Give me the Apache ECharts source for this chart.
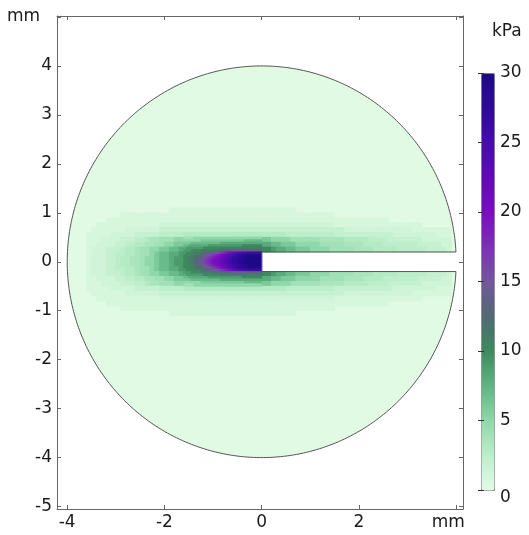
<!DOCTYPE html>
<html>
  <head>
    <meta charset="utf-8">
    <title></title>
    <style media="screen">
    html, body {margin:0; padding:0; background:#fff;}
    .box {width:529px; height:535px;}
    </style>
    <script src="https://cdn.jsdelivr.net/npm/echarts@6/dist/echarts.min.js" charset="utf-8"></script>
    <script>
    // axis ticks (mm) and colour bar ticks (kPa)
    const xTicks = [-4, -2, 0, 2, 4];
    const yTicks = [-5, -4, -3, -2, -1, 0, 1, 2, 3, 4, 5];
    const cbTicks = [0, 5, 10, 15, 20, 25, 30];

    // geometry of the cut disk, mm
    const diskRadius = 4;
    const slitHalf = 0.2;
    const slitTip = 0;

    // stress levels (kPa) coded by one char each
    const levelChars = '0123456789abcdefghijklmnopqrstuvwx';
    const levels = [0.15, 0.8, 1.3, 2, 2.5, 3, 3.5, 4, 5, 6,
                    7, 8, 9, 10, 11, 12, 13, 14, 15, 16, 17, 18, 19, 20,
                    21, 22, 23, 24, 25, 26, 27, 28, 29, 30];
    const backgroundLevel = 0.15;

    // coarse field: 0.1 mm cells,
    // rows from y=1.2 down to y=-1.2, columns from x=-3.6 to x=4.0
    const coarseCell = 0.1;
    const coarseLeft = -3.6;
    const coarseTop = 1.2;
    const coarseRows = [
      '0000000000' + '0000000000' + '0000000000' + '000000' + '0000000000' + '0000000000' + '0000000000' + '0000000000',
      '0000000000' + '0000000111' + '1111111111' + '111111' + '1111111000' + '0000000000' + '0000000000' + '0000000000',
      '0000000111' + '1111111111' + '1111111111' + '111111' + '1111111111' + '1111100000' + '0000000000' + '0000000000',
      '0000111111' + '1111111111' + '1111111111' + '111111' + '1111111111' + '1111111111' + '1111110000' + '0000000000',
      '0011111111' + '1111122222' + '2222222222' + '222222' + '2222222222' + '2222211111' + '1111111111' + '1110000000',
      '0111111122' + '2222233333' + '3333333333' + '333333' + '3333333333' + '3333333222' + '2222222222' + '2111111110',
      '1111122222' + '3333344444' + '5555555555' + '555555' + '5555544444' + '4444433333' + '3333333222' + '2222221111',
      '1112222333' + '4456677788' + '8888899999' + '999999' + '9988887777' + '7766666555' + '5544443333' + '3332222222',
      '1122223344' + '5566778899' + '9aaaabbbbc' + 'cccbbb' + 'bbaa999888' + '8877777666' + '6555544444' + '4433333222',
      '1222333455' + '6778899aab' + 'cddeefffff' + 'ffeeee' + 'ddcbbaa999' + '8888777776' + '6665555544' + '4444333322',
      '1222334455' + '67789aabbc' + 'deefghikmo' + 'qstuvv' + '..........' + '..........' + '..........' + '..........',
      '1222334556' + '67889aabcc' + 'defhikmoqr' + 'uvwxxx' + '..........' + '..........' + '..........' + '..........',
      '1222334556' + '67889aabcc' + 'defhikmoqr' + 'uvwxxx' + '..........' + '..........' + '..........' + '..........',
      '1222334455' + '67789aabbc' + 'deefghikmo' + 'qstuvv' + '..........' + '..........' + '..........' + '..........',
      '1222333455' + '6778899aab' + 'cddeefffff' + 'ffeeee' + 'ddcbbaa999' + '8888777776' + '6665555544' + '4444333322',
      '1122223344' + '5566778899' + '9aaaabbbbc' + 'cccbbb' + 'bbaa999888' + '8877777666' + '6555544444' + '4433333222',
      '1112222333' + '4456677788' + '8888899999' + '999999' + '9988887777' + '7766666555' + '5544443333' + '3332222222',
      '1111122222' + '3333344444' + '5555555555' + '555555' + '5555544444' + '4444433333' + '3333333222' + '2222221111',
      '0111111122' + '2222233333' + '3333333333' + '333333' + '3333333333' + '3333333222' + '2222222222' + '2111111110',
      '0011111111' + '1111122222' + '2222222222' + '222222' + '2222222222' + '2222211111' + '1111111111' + '1110000000',
      '0000111111' + '1111111111' + '1111111111' + '111111' + '1111111111' + '1111111111' + '1111110000' + '0000000000',
      '0000000111' + '1111111111' + '1111111111' + '111111' + '1111111111' + '1111100000' + '0000000000' + '0000000000',
      '0000000000' + '0000000111' + '1111111111' + '111111' + '1111111000' + '0000000000' + '0000000000' + '0000000000',
      '0000000000' + '0000000000' + '0000000000' + '000000' + '0000000000' + '0000000000' + '0000000000' + '0000000000'
    ];

    // finer field at the slit tip: 0.05 mm cells,
    // rows from y=0.5 down to y=-0.5, columns from x=-1.6 to x=0
    const fineCell = 0.05;
    const fineLeft = -1.6;
    const fineTop = 0.5;
    const fineRows = [
      '77778888888888888888888888888888',
      '8888888999999999999999999aaaaaaa',
      '999aaaaaaaaaaaabbbbbbbbbbbbbbbbb',
      'aabbbbbbbbccccccccccccccdddddddd',
      'bcccccccdddddddeeeeeeeeeeeeeeeee',
      'cccddddeeeeeffffgggghhhhhhhhgggg',
      'cdddeeeffgghiijklmnopqrrsstttttt',
      'dddeeffghiijklmnopqrstuuvvwwwwww',
      'ddeeffghijklmnnopqrstuuvvwwxxxxx',
      'ddeefghijklmnnopqrstuuvvwxxxxxxx',
      'ddeefghijklmnnopqrstuuvvwxxxxxxx',
      'ddeeffghijklmnnopqrstuuvvwwxxxxx',
      'dddeeffghiijklmnopqrstuuvvwwwwww',
      'cdddeeeffgghiijklmnopqrrsstttttt',
      'cccddddeeeeeffffgggghhhhhhhhgggg',
      'bcccccccdddddddeeeeeeeeeeeeeeeee',
      'aabbbbbbbbccccccccccccccdddddddd',
      '999aaaaaaaaaaaabbbbbbbbbbbbbbbbb',
      '8888888999999999999999999aaaaaaa',
      '77778888888888888888888888888888'
    ];

    const paletteColors = ['#e3fbe6', '#bdeecb', '#8fd8a9', '#60b483', '#3e8a5e', '#506a72',
                           '#72579c', '#7d30b8', '#7a0cc0', '#6209b8', '#460cab', '#2e0a9a', '#1c0a85'];

    window.onload = function(){
      const chart = echarts.init(document.querySelector('.box'));

      function inDisk(x, y){
        return x * x + y * y <= diskRadius * diskRadius;
      }

      // cells fully inside the disk: [x left, y top, kPa, size]
      const cells = [];
      function addCells(rows, left, top, size){
        rows.forEach((row, r) => {
          for (let c = 0; c < row.length; c++) {
            const ch = row[c];
            if (ch === '.' || ch === '0') continue;
            const x0 = left + c * size;
            const y0 = top - r * size;
            const x1 = x0 + size, y1 = y0 - size;
            if (x0 >= slitTip - 1e-9 && y1 >= -slitHalf - 1e-9 && y0 <= slitHalf + 1e-9) continue;
            if (!(inDisk(x0, y0) && inDisk(x1, y0) && inDisk(x0, y1) && inDisk(x1, y1))) continue;
            cells.push([x0, y0, levels[levelChars.indexOf(ch)], size]);
          }
        });
      }
      addCells(coarseRows, coarseLeft, coarseTop, coarseCell);
      addCells(fineRows, fineLeft, fineTop, fineCell);

      // outline of the disk with the slit, in mm
      function outlinePoints(api){
        const pts = [];
        const a0 = Math.asin(slitHalf / diskRadius);
        const n = 360;
        for (let i = 0; i <= n; i++) {
          const a = a0 + (2 * Math.PI - 2 * a0) * i / n;
          pts.push(api.coord([diskRadius * Math.cos(a), diskRadius * Math.sin(a)]));
        }
        pts.push(api.coord([slitTip, -slitHalf]));
        pts.push(api.coord([slitTip, slitHalf]));
        return pts;
      }

      const axisColor = '#666';
      const labelColor = '#1a1a1a';
      const tick = {inside: true, length: 4, lineStyle: {color: axisColor}};

      const option = {
        animation: false,
        textStyle: {fontFamily: 'DejaVu Sans'},
        grid: [
          {left: 57, top: 16, width: 406, height: 493},
          {left: 481, top: 73, width: 13, height: 417}
        ],
        xAxis: [
          {
            gridIndex: 0, type: 'value', min: -4.21, max: 4.14, position: 'bottom', z: 5,
            axisLine: {onZero: false, lineStyle: {color: axisColor}},
            axisTick: Object.assign({customValues: xTicks}, tick),
            axisLabel: {customValues: xTicks, fontSize: 17, color: labelColor, margin: 5,
              formatter: v => v === 4 ? '{u|mm}' : String(v),
              rich: {u: {fontSize: 17, color: labelColor, padding: [0, 16, 0, 0]}}},
            splitLine: {show: false}
          },
          {
            gridIndex: 0, type: 'value', min: -4.21, max: 4.14, position: 'top', z: 5,
            axisLine: {onZero: false, lineStyle: {color: axisColor}},
            axisTick: Object.assign({customValues: xTicks}, tick),
            axisLabel: {show: false},
            splitLine: {show: false}
          },
          {gridIndex: 1, type: 'value', min: 0, max: 1, show: false}
        ],
        yAxis: [
          {
            gridIndex: 0, type: 'value', min: -5.05, max: 5.02, position: 'left', z: 5,
            axisLine: {onZero: false, lineStyle: {color: axisColor}},
            axisTick: Object.assign({customValues: yTicks}, tick),
            axisLabel: {customValues: yTicks, fontSize: 17, color: labelColor, margin: 5,
              formatter: v => v === 5 ? '{u|mm}' : String(v),
              rich: {u: {fontSize: 17, color: labelColor, padding: [0, 12, 0, 0]}}},
            splitLine: {show: false}
          },
          {
            gridIndex: 0, type: 'value', min: -5.05, max: 5.02, position: 'right', z: 5,
            axisLine: {onZero: false, lineStyle: {color: axisColor}},
            axisTick: Object.assign({customValues: yTicks}, tick),
            axisLabel: {show: false},
            splitLine: {show: false}
          },
          {
            gridIndex: 1, type: 'value', min: 0, max: 30, position: 'right', z: 10,
            axisLine: {show: false},
            axisTick: {inside: true, length: 3, customValues: cbTicks, lineStyle: {color: '#333'}},
            axisLabel: {customValues: cbTicks, fontSize: 17, color: labelColor, margin: 6,
              formatter: v => v === 0 ? '{z|0}' : String(v),
              rich: {z: {fontSize: 17, color: labelColor, padding: [16, 0, 0, 0]}}},
            splitLine: {show: false}
          },
          {
            gridIndex: 1, type: 'value', min: 0, max: 30, position: 'left', z: 10,
            axisLine: {show: false},
            axisTick: {inside: true, length: 3, customValues: cbTicks, lineStyle: {color: '#333'}},
            axisLabel: {show: false},
            splitLine: {show: false}
          }
        ],
        visualMap: {
          type: 'continuous', min: 0, max: 30, dimension: 2, seriesIndex: [0, 1],
          left: 481, top: 73, itemWidth: 13, itemHeight: 417, padding: 0,
          calculable: false, realtime: false, hoverLink: false,
          borderColor: '#888', borderWidth: 1,
          inRange: {color: paletteColors}
        },
        graphic: [
          {type: 'text', left: 492, top: 23, style: {text: 'kPa', fontSize: 17, fill: labelColor, fontFamily: 'DejaVu Sans'}}
        ],
        series: [
          {
            name: 'disk', type: 'custom', xAxisIndex: 0, yAxisIndex: 0, silent: true, z: 1,
            data: [[0, 0, backgroundLevel]],
            renderItem: (params, api) => ({
              type: 'polygon',
              shape: {points: outlinePoints(api)},
              style: {fill: api.visual('color'), stroke: 'none'}
            })
          },
          {
            name: 'field', type: 'custom', xAxisIndex: 0, yAxisIndex: 0, silent: true, z: 2,
            data: cells,
            renderItem: (params, api) => {
              const s = api.value(3);
              const p0 = api.coord([api.value(0), api.value(1)]);
              const p1 = api.coord([api.value(0) + s, api.value(1) - s]);
              return {
                type: 'rect',
                shape: {x: p0[0] - 0.4, y: p0[1] - 0.4, width: p1[0] - p0[0] + 0.8, height: p1[1] - p0[1] + 0.8},
                style: {fill: api.visual('color')}
              };
            }
          },
          {
            name: 'outline', type: 'custom', xAxisIndex: 0, yAxisIndex: 0, silent: true, z: 3,
            data: [[0, 0]],
            renderItem: (params, api) => ({
              type: 'polygon',
              shape: {points: outlinePoints(api)},
              style: {fill: 'none', stroke: '#555', lineWidth: 1}
            })
          }
        ]
      };

      chart.setOption(option);
    }
    </script>
  </head>
  <body>
    <div class="box"></div>
  </body>
</html>
